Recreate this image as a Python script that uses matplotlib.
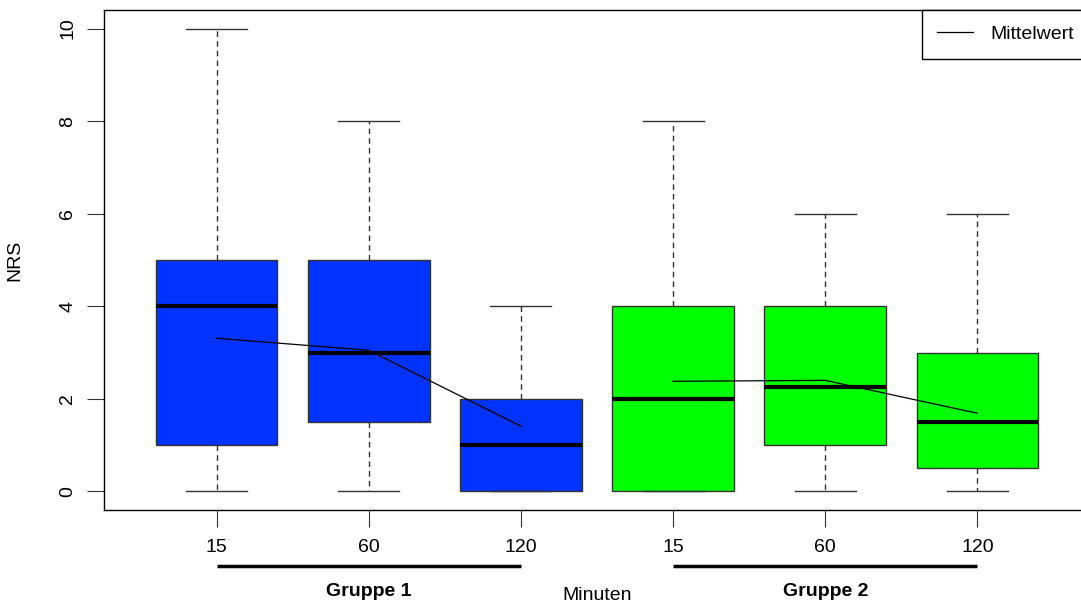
import matplotlib.pyplot as plt
from matplotlib.lines import Line2D

plt.rcParams['font.family'] = ['Liberation Sans', 'DejaVu Sans']

# NRS pain scores per group and time point (minutes)
minutes = ['15', '60', '120', '15', '60', '120']
groups = ['Gruppe 1', 'Gruppe 2']
whis_lo = [0, 0, 0, 0, 0, 0]
q1 = [1, 1.5, 0, 0, 1, 0.5]
medians = [4, 3, 1, 2, 2.25, 1.5]
q3 = [5, 5, 2, 4, 4, 3]
whis_hi = [10, 8, 4, 8, 6, 6]
means = [3.31, 3.05, 1.41, 2.38, 2.40, 1.69]
colors = ['#0033ff', '#0033ff', '#0033ff', '#00ff00', '#00ff00', '#00ff00']

positions = list(range(1, len(minutes) + 1))
stats = [dict(whislo=a, q1=b, med=c, q3=d, whishi=e, fliers=[])
         for a, b, c, d, e in zip(whis_lo, q1, medians, q3, whis_hi)]

fig = plt.figure(figsize=(10.81, 6.04), dpi=100)
# plot region runs past the right edge of the figure
ax = fig.add_axes([104 / 1081, 94 / 604, 986 / 1081, 500 / 604])

bp = ax.bxp(stats, positions=positions, widths=0.8, patch_artist=True,
            showfliers=False,
            boxprops=dict(edgecolor='#333333', linewidth=1),
            medianprops=dict(color='black', linewidth=3, solid_capstyle='butt'),
            whiskerprops=dict(color='#333333', linewidth=1, linestyle=(0, (4, 3))),
            capprops=dict(color='#333333', linewidth=1),
            capwidths=0.4)
for patch, c in zip(bp['boxes'], colors):
    patch.set_facecolor(c)

# mean line within each group
ax.plot(positions[:3], means[:3], color='black', linewidth=0.9)
ax.plot(positions[3:], means[3:], color='black', linewidth=0.9)

ax.set_xlim(0.26, 6.74)
ax.set_ylim(-0.4, 10.4)
ax.set_yticks([0, 2, 4, 6, 8, 10])
ax.set_yticklabels(['0', '2', '4', '6', '8', '10'], rotation=90, va='center')
ax.set_xticks(positions)
ax.set_xticklabels(minutes)
ax.tick_params(axis='both', labelsize=14, length=12, width=0.8, color='#333333')
ax.tick_params(axis='x', pad=9)
ax.tick_params(axis='y', pad=8)
for s in ax.spines.values():
    s.set_linewidth(1)
ax.set_ylabel('NRS', fontsize=14, labelpad=26)

# group brackets under the time labels
trans = ax.get_xaxis_transform()
for g, name in enumerate(groups):
    x0, x1 = positions[3 * g], positions[3 * g + 2]
    ax.plot([x0, x1], [-0.112, -0.112], transform=trans, color='black',
            linewidth=2.5, clip_on=False, solid_capstyle='butt')
    ax.text((x0 + x1) / 2, -0.162, name, transform=trans, ha='center', va='center',
            fontsize=14, fontweight='bold')
fig.text(597 / 1081, 1 - 595 / 604, 'Minuten', ha='center', va='center', fontsize=14)

handle = Line2D([], [], color='black', linewidth=0.9)
leg = ax.legend([handle], ['Mittelwert'], loc='upper right', borderaxespad=0,
                fontsize=14, fancybox=False, framealpha=1, handlelength=1.85,
                borderpad=0.8, handletextpad=0.9)
leg.get_frame().set_edgecolor('black')
leg.get_frame().set_linewidth(1)

fig.savefig('out.png', dpi=100)
